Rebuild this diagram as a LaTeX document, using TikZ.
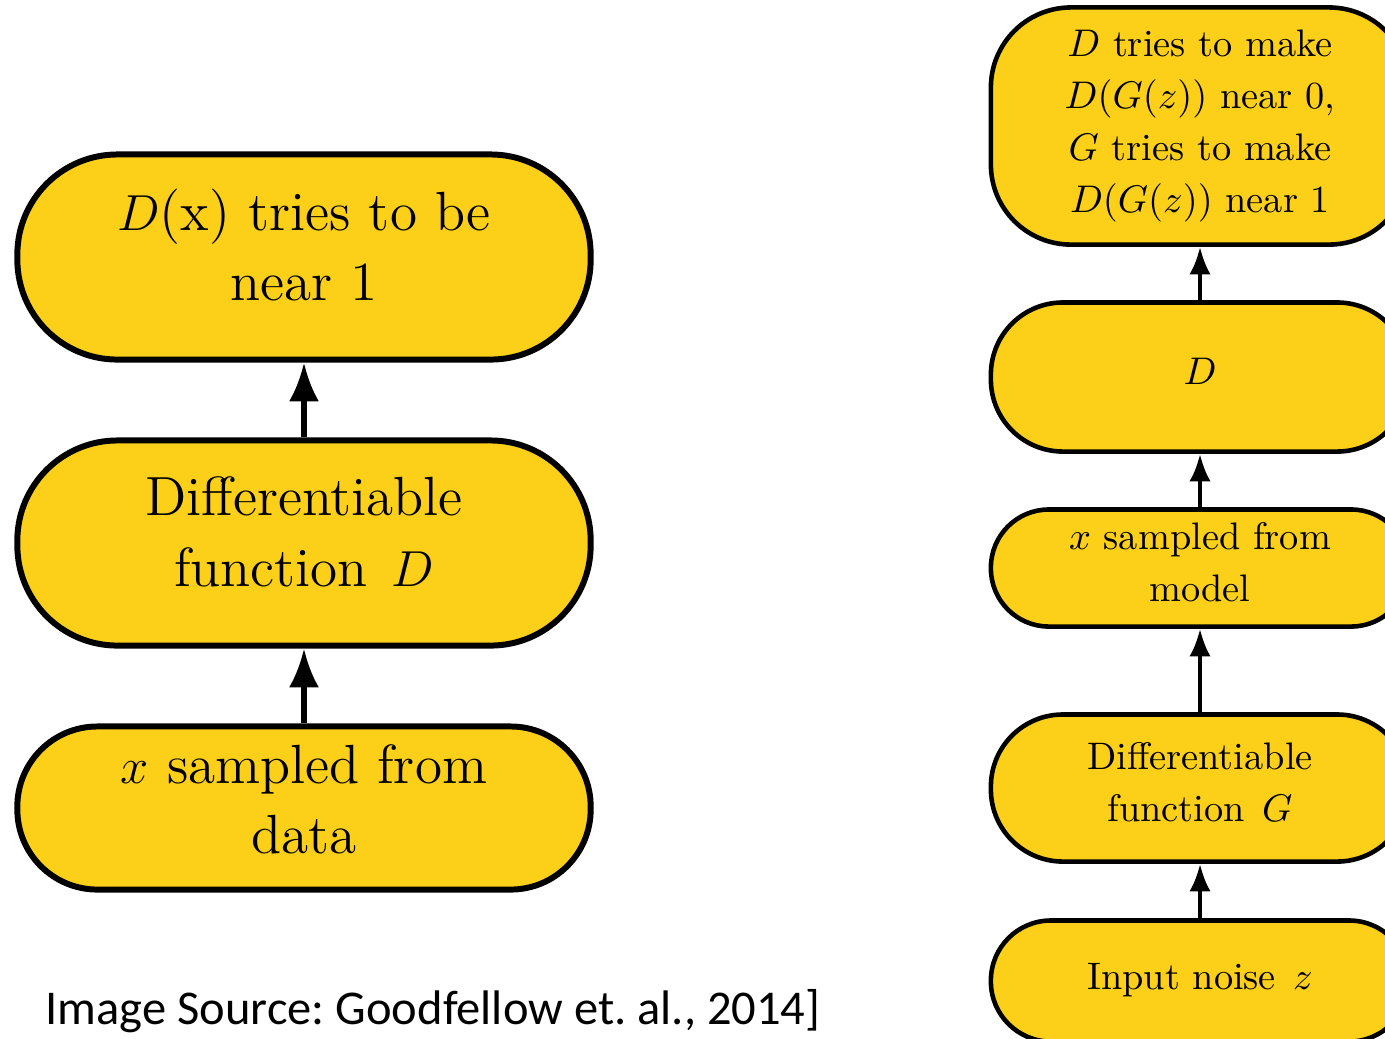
\documentclass[tikz,border=0pt]{standalone}
\usepackage{fontspec}
\newfontfamily\srcfont{Carlito}
\newfontfamily\lmtwelve{lmroman12-regular.otf}
\usetikzlibrary{arrows.meta}
\definecolor{boxyellow}{RGB}{252,208,24}
\newcommand{\dn}[1]{\rule[-#1]{0pt}{0pt}}
\tikzset{
  bigbox/.style={draw=black, line width=1.7pt, fill=boxyellow, rounded corners=1.0cm,
    minimum width=5.73cm, align=center, inner sep=0pt,
    font=\lmtwelve\fontsize{15.7}{20}\selectfont},
  smallbox/.style={draw=black, line width=1.3pt, fill=boxyellow, rounded corners=0.72cm,
    minimum width=4.18cm, align=center, inner sep=0pt,
    font=\fontsize{10.9}{14.8}\selectfont},
  bigarr/.style={line width=1.5pt, -{Latex[length=11pt,width=8.5pt]}},
  smallarr/.style={line width=1.15pt, -{Latex[length=7.8pt,width=6pt]}},
}
\begin{document}
\begin{tikzpicture}[x=0.01cm,y=-0.01cm]
\useasboundingbox (0,0) rectangle (1385,1038);
\clip (0,0) rectangle (1385,1038);
\fill[white] (0,0) rectangle (1385,1038);
% left column
\node[bigbox, minimum height=2.05cm] (l1) at (304,257) {$D$(x) tries to be\\near 1\dn{7pt}};
\node[bigbox, minimum height=2.05cm] (l2) at (304,543) {Differentiable\\function\hspace{0.42em}$D$\dn{6.5pt}};
\node[bigbox, minimum height=1.63cm, rounded corners=0.8cm] (l3) at (304,808) {$x$ sampled from\\data\dn{5pt}};
\draw[bigarr] (l3) -- (l2);
\draw[bigarr] (l2) -- (l1);
% right column
\node[smallbox, minimum height=2.37cm, rounded corners=0.8cm] (r1) at (1200,126) {$D$ tries to make\\$D(G(z))$ near 0,\\$G$ tries to make\\$D(G(z))$ near 1};
\node[smallbox, minimum height=1.49cm] (r2) at (1200,377) {$D$\dn{3.4pt}};
\node[smallbox, minimum height=1.17cm, rounded corners=0.58cm] (r3) at (1200,568) {$x$ sampled from\\model\dn{3.4pt}};
\node[smallbox, minimum height=1.47cm] (r4) at (1200,788) {Differentiable\\function\hspace{0.45em}$G$\dn{3.4pt}};
\node[smallbox, minimum height=1.21cm, rounded corners=0.6cm] (r5) at (1200,981) {Input noise\hspace{0.45em}$z$\dn{2.5pt}};
\draw[smallarr] (r5) -- (r4);
\draw[smallarr] (r4) -- (r3);
\draw[smallarr] (r3) -- (r2);
\draw[smallarr] (r2) -- (r1);
% source
\node[anchor=base west, inner sep=0pt, font=\srcfont\fontsize{13.8}{16}\selectfont\frenchspacing] (src) at (45,1024) {Image Source: Goodfellow et. al., 2014]};
\end{tikzpicture}
\end{document}
